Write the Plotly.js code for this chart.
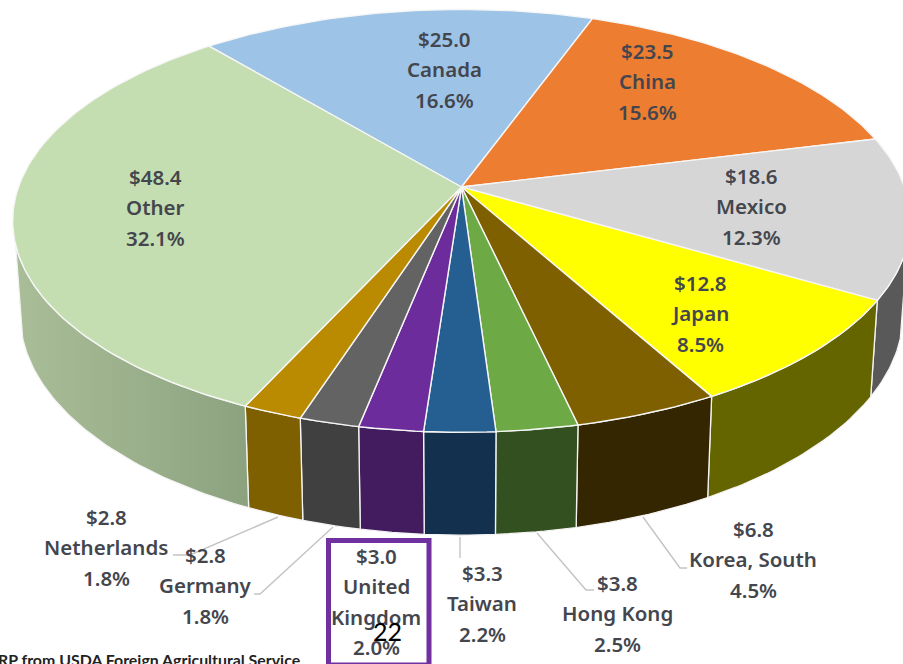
<!DOCTYPE html>
<html>
<head>
<meta charset="utf-8">
<script src="https://cdn.plot.ly/plotly-3.0.1.min.js"></script>
<style>html,body{margin:0;padding:0;background:#fff;overflow:hidden}#chart{width:903px;height:664px}</style>
</head>
<body>
<div id="chart"></div>
<script>
// Data (US$ billions), clockwise from Canada
const names = ["Canada","China","Mexico","Japan","Korea, South","Hong Kong","Taiwan","United Kingdom","Germany","Netherlands","Other"];
const values = [25.0,23.5,18.6,12.8,6.8,3.8,3.3,3.0,2.8,2.8,48.4];
const percents = ["16.6%","15.6%","12.3%","8.5%","4.5%","2.5%","2.2%","2.0%","1.8%","1.8%","32.1%"];
const topColors = ["#9DC3E6","#ED7D31","#D6D6D6","#FFFF00","#7F6000","#6DAA45","#255E91","#6C2C9C","#636363","#BA8A00","#C4DEB1"];
const wallColors = ["#5E7F9C","#8E4B1D","#595959","#656500","#332600","#325020","#14304F","#431C5F","#404040","#7F6000","#9DB089"];
const labelNames = [["Canada"],["China"],["Mexico"],["Japan"],["Korea, South"],["Hong Kong"],["Taiwan"],["United","Kingdom"],["Germany"],["Netherlands"],["Other"]];
const labelX = [444,647,751,700,753,617,482,376,205,106,155];
const labelY = [39,51,176,283,529,583,573,556,555,517,177];
const labelStep = 30.3;

// Projection of the tilted disc
const START = -39.8, P = 0.16;
const TOP = {cx:461.5, cy:187, rx:443, ry:206};
const BOT = {cx:461.5, cy:278, rx:436, ry:216};
const WALL_FROM = 105.6, WALL_TO = 254.4;
function project(deg, g){
  const t = deg*Math.PI/180, u = Math.sin(t), v = -Math.cos(t), w = 1 - P*v;
  return [g.cx + g.rx*u/w, g.cy + g.ry*v/w];
}
function arc(a0, a1, g){
  const n = Math.max(2, Math.ceil(Math.abs(a1-a0))), pts = [];
  for(let i=0;i<=n;i++) pts.push(project(a0+(a1-a0)*i/n, g));
  return pts;
}
const total = values.reduce((a,b)=>a+b,0);
let cum = START;
const spans = values.map(v=>{const a=cum; cum+=v/total*360; return [a,cum];});

const traces = [];
// Side walls first: the tops cover the upper edge
spans.forEach((s,i)=>{
  const v0 = Math.max(s[0], WALL_FROM), v1 = Math.min(s[1], WALL_TO);
  if(v1 <= v0) return;
  const rim = arc(v0,v1,TOP), low = arc(v1,v0,BOT), pts = rim.concat(low); pts.push(rim[0]);
  const tr = {type:"scatter",mode:"lines",name:names[i]+" side",x:pts.map(p=>p[0]),y:pts.map(p=>p[1]),
    fill:"toself",fillcolor:wallColors[i],line:{color:"#F4F4F4",width:1.3},hoverinfo:"skip",showlegend:false};
  if(names[i]==="Other"){
    tr.fillgradient = {type:"horizontal",colorscale:[[0,"#AABD99"],[1,"#8CA27E"]]};
  }
  traces.push(tr);
});
// Top faces
spans.forEach((s,i)=>{
  const rim = arc(s[0],s[1],TOP);
  const pts = [[TOP.cx,TOP.cy]].concat(rim,[[TOP.cx,TOP.cy]]);
  traces.push({type:"scatter",mode:"lines",name:names[i],x:pts.map(p=>p[0]),y:pts.map(p=>p[1]),
    fill:"toself",fillcolor:topColors[i],line:{color:"#F6F6F6",width:1.4},
    text:names[i]+": $"+values[i].toFixed(1)+" ("+percents[i]+")",hoverinfo:"text",showlegend:false});
});

const FONT = {family:'"Noto Sans", sans-serif',size:20.5,color:"#44464E",weight:600};
const annotations = [];
names.forEach((n,i)=>{
  const lines = ["$"+values[i].toFixed(1)].concat(labelNames[i],[percents[i]]);
  lines.forEach((t,j)=>annotations.push({x:labelX[i],y:labelY[i]+j*labelStep,xref:"x",yref:"y",text:t,showarrow:false,
    xanchor:"center",yanchor:"middle",font:FONT}));
});
annotations.push({x:387,y:631,xref:"x",yref:"y",text:"22",showarrow:false,xanchor:"center",yanchor:"middle",
  font:{family:'Lato, sans-serif',size:25,color:"#000"}});
annotations.push({x:0,xshift:-4,y:659,xref:"x",yref:"y",text:"RP from USDA Foreign Agricultural Service",showarrow:false,xanchor:"left",yanchor:"middle",
  font:{family:'Lato, sans-serif',size:15.9,color:"#222",weight:700}});

const LEAD = {color:"#C4C4C4",width:1.4};
const shapes = [
  {type:"path",path:"M278,517 L190,555 L173,555",line:LEAD},
  {type:"path",path:"M333,527 L260,594 L254,594",line:LEAD},
  {type:"path",path:"M460,537 L460,558",line:LEAD},
  {type:"path",path:"M537,533 L586,590 L594,590",line:LEAD},
  {type:"path",path:"M643,517 L680,568 L687,568",line:LEAD},
  {type:"rect",x0:328.5,x1:429,y0:540.5,y1:665,line:{color:"#7030A0",width:5}}
].map(s=>Object.assign({xref:"x",yref:"y",layer:"above"},s));

Plotly.newPlot("chart",traces,{
  width:903,height:664,margin:{l:0,r:0,t:0,b:0},paper_bgcolor:"#fff",plot_bgcolor:"#fff",showlegend:false,
  xaxis:{range:[0,903],visible:false,fixedrange:true},
  yaxis:{range:[664,0],visible:false,fixedrange:true},
  annotations,shapes
},{displayModeBar:false,responsive:false});
</script>
</body>
</html>
